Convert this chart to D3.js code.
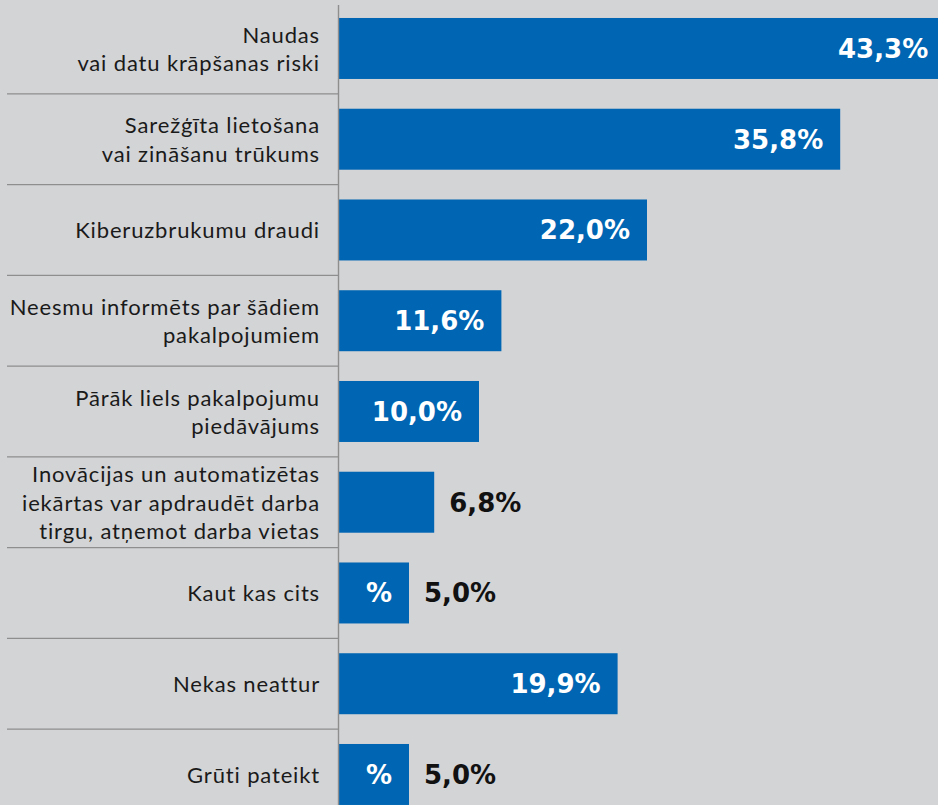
<!DOCTYPE html>
<html>
<head>
<meta charset="utf-8">
<script src="https://cdn.jsdelivr.net/npm/d3@7"></script>
<style>
  html, body { margin: 0; padding: 0; background: #d3d4d6; overflow: hidden; }
  svg { display: block; }
</style>
</head>
<body>
<div id="chart"></div>
<script>
// categories, one entry per row, split in lines as on the picture
let categories = [
  ["Naudas", "vai datu krāpšanas riski"],
  ["Sarežģīta lietošana", "vai zināšanu trūkums"],
  ["Kiberuzbrukumu draudi"],
  ["Neesmu informēts par šādiem", "pakalpojumiem"],
  ["Pārāk liels pakalpojumu", "piedāvājums"],
  ["Inovācijas un automatizētas", "iekārtas var apdraudēt darba", "tirgu, atņemot darba vietas"],
  ["Kaut kas cits"],
  ["Nekas neattur"],
  ["Grūti pateikt"]
];
let values = [43.3, 35.8, 22.0, 11.6, 10.0, 6.8, 5.0, 19.9, 5.0];
// where the value label sits: inside the bar or after it
let labelPlace = ["in", "in", "in", "in", "in", "out", "out", "in", "out"];
// rows where a lone "%" was left inside the bar
let strayPercent = [false, false, false, false, false, false, true, false, true];

let width = 938;
let height = 805;
let axisX = 339;
let barColor = "#0066b3";
let lineColor = "#8e8e8e";

let fmt = v => d3.format(".1f")(v).replace(".", ",") + "%";

let svg = d3.select("#chart")
  .append("svg")
  .attr("width", width)
  .attr("height", height);

let x = d3.scaleLinear()
  .domain([0, 50])
  .range([axisX, axisX + 700]);

let idx = d3.range(categories.length);
let y = d3.scaleBand()
  .domain(idx)
  .range([3.1, 3.1 + 90.75 * categories.length])
  .paddingInner(0.328)
  .paddingOuter(0.164);

// row separators on the label side
svg.append("g")
  .selectAll("line")
  .data(idx.slice(0, -1))
  .enter().append("line")
    .attr("x1", 7)
    .attr("x2", axisX)
    .attr("y1", d => y(d) + y.bandwidth() + y.step() * 0.164)
    .attr("y2", d => y(d) + y.bandwidth() + y.step() * 0.164)
    .attr("stroke", lineColor)
    .attr("stroke-width", 1.4);

// bars
svg.append("g")
  .selectAll("rect")
  .data(idx)
  .enter().append("rect")
    .attr("x", x(0))
    .attr("y", d => y(d))
    .attr("width", d => x(values[d]) - x(0))
    .attr("height", y.bandwidth())
    .attr("fill", barColor);

// vertical axis line
svg.append("line")
  .attr("x1", axisX - 0.5)
  .attr("x2", axisX - 0.5)
  .attr("y1", 5)
  .attr("y2", height)
  .attr("stroke", lineColor)
  .attr("stroke-width", 1.4);

// category labels
let lh = 28.5;
let cat = svg.append("g")
  .selectAll("text")
  .data(idx)
  .enter().append("text")
    .attr("text-anchor", "end")
    .attr("font-family", "Lato, 'Noto Sans', sans-serif")
    .attr("font-size", 22)
    .attr("letter-spacing", 0.85)
    .attr("fill", "#1a1a1a");

cat.each(function(d) {
  let lines = categories[d];
  let cy = y(d) + y.bandwidth() / 2;
  let first = cy - (lines.length - 1) * lh / 2 + 8.5;
  d3.select(this).selectAll("tspan")
    .data(lines)
    .enter().append("tspan")
      .attr("x", 320)
      .attr("y", (t, i) => first + i * lh)
      .text(t => t);
});

// value labels
let valueFont = "'DejaVu Sans', sans-serif";
svg.append("g")
  .selectAll("text")
  .data(idx)
  .enter().append("text")
    .attr("x", d => labelPlace[d] === "in" ? x(values[d]) - 17 : x(values[d]) + 15)
    .attr("y", d => y(d) + y.bandwidth() / 2)
    .attr("dy", "0.36em")
    .attr("text-anchor", d => labelPlace[d] === "in" ? "end" : "start")
    .attr("font-family", valueFont)
    .attr("font-weight", "bold")
    .attr("font-size", 26)
    .attr("fill", d => labelPlace[d] === "in" ? "#ffffff" : "#111111")
    .text(d => fmt(values[d]));

svg.append("g")
  .selectAll("text")
  .data(idx.filter(d => strayPercent[d]))
  .enter().append("text")
    .attr("x", d => x(values[d]) - 17)
    .attr("y", d => y(d) + y.bandwidth() / 2)
    .attr("dy", "0.36em")
    .attr("text-anchor", "end")
    .attr("font-family", valueFont)
    .attr("font-weight", "bold")
    .attr("font-size", 26)
    .attr("fill", "#ffffff")
    .text("%");
</script>
</body>
</html>
